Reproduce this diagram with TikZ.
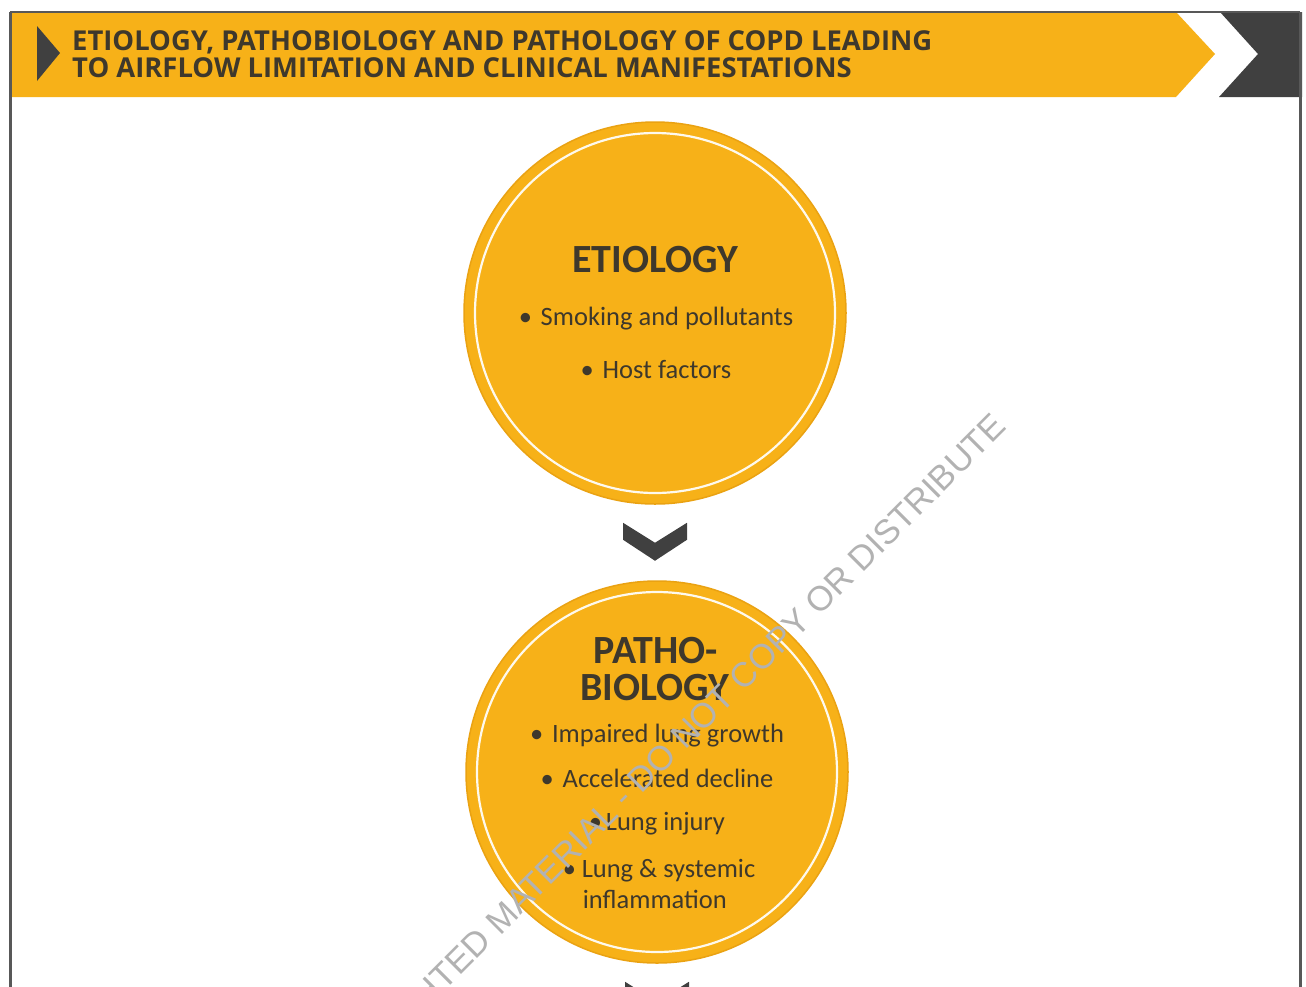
\documentclass[tikz,border=0pt]{standalone}
\usepackage{fontspec}
\setmainfont{Carlito}
\newfontfamily\bannerfont{Open Sans}
\newfontfamily\wmfont{Liberation Sans}
\usetikzlibrary{calc}

\definecolor{gold}{RGB}{247,177,24}
\definecolor{goldedge}{RGB}{234,162,18}
\definecolor{ink}{RGB}{62,56,44}
\definecolor{slate}{RGB}{64,64,64}
\definecolor{framegray}{RGB}{88,88,88}
\newcommand{\bul}[1]{\makebox[#1][l]{\textbullet}}

\begin{document}
\begin{tikzpicture}[x=1pt,y=-1pt,
  stage/.style={circle, fill=gold, draw=goldedge, line width=1.5pt,
                minimum size=382pt, inner sep=0pt},
  ring/.style={draw=white!92!gold, line width=2.2pt},
  bannertext/.style={font=\bannerfont\fontsize{27.4}{27}\selectfont\bfseries, text=ink, inner sep=0pt},
  heading/.style={font=\fontsize{40}{37}\selectfont\bfseries, text=ink, inner sep=0pt},
  item/.style={font=\fontsize{26.5}{31}\selectfont, text=ink, inner sep=0pt},
  chevron/.style={fill=slate},
  watermark/.style={font=\wmfont\fontsize{34.5}{34.5}\selectfont, text=black!30, inner sep=0pt},
]

\useasboundingbox (0,0) rectangle (1306,986);
\clip (0,0) rectangle (1306,986);
\fill[white] (0,0) rectangle (1306,986);

% banner
\fill[gold] (10,12) -- (1176,12) -- (1215,54) -- (1176,97) -- (10,97) -- cycle;
\fill[slate] (1220,12) -- (1302,12) -- (1302,97) -- (1219,97) -- (1258,54) -- cycle;
\fill[slate] (37,26) -- (60,53) -- (37,81) -- cycle;
\draw[framegray, line width=2.5pt] (10,12) -- (1300,12);
\draw[framegray, line width=3pt] (10,12) -- (10,990);
\draw[framegray, line width=3pt] (1300,12) -- (1300,990);

\node[bannertext, anchor=base west] (title1) at (72,50)
  {ETIOLOGY, PATHOBIOLOGY AND PATHOLOGY OF COPD LEADING};
\node[bannertext, anchor=base west] (title2) at (72,77)
  {TO AIRFLOW LIMITATION AND CLINICAL MANIFESTATIONS};

% etiology stage
\node[stage] (etio) at (655,313) {};
\draw[ring] (etio.center) circle[radius=180pt];
\node[heading, anchor=base] (etioH) at (655,272) {ETIOLOGY};
\node[item, anchor=base] (e1) at (656,325) {\bul{22pt}Smoking and pollutants};
\node[item, anchor=base] (e2) at (656,378) {\bul{22pt}Host factors};

% pathobiology stage
\node[stage] (patho) at (657,772) {};
\draw[ring] (patho.center) circle[radius=180pt];
\node[heading, anchor=base] (pathoH1) at (656,663) {PATHO-};
\node[heading, anchor=base] (pathoH2) at (655,700) {BIOLOGY};
\node[item, anchor=base] (p1) at (657,742) {\bul{22pt}Impaired lung growth};
\node[item, anchor=base] (p2) at (657,787) {\bul{22pt}Accelerated decline};
\node[item, anchor=base] (p3) at (657,830) {\bul{17pt}Lung injury};
\node[item, anchor=base] (p4) at (659,877) {\bul{19pt}Lung \& systemic};
\node[item, anchor=base west] (p4b) at ($(p4.base west)+(20,31)$) {inflammation};

% chevrons between stages
\coordinate (c1) at ($(etio.south)+(0,18)$);
\coordinate (c2) at ($(patho.south)+(0,18)$);
\foreach \c in {c1,c2}{
  \fill[chevron] (\c) ++(-32,0) -- ++(32,20) -- ++(32,-20) -- ++(0,17)
     -- ++(-32,21) -- ++(-32,-21) -- cycle;
}

% watermark
\node[watermark, rotate=45, anchor=base east] (wm) at (1008,428)
  {COPYRIGHTED MATERIAL - DO NOT COPY OR DISTRIBUTE};
\end{tikzpicture}
\end{document}
